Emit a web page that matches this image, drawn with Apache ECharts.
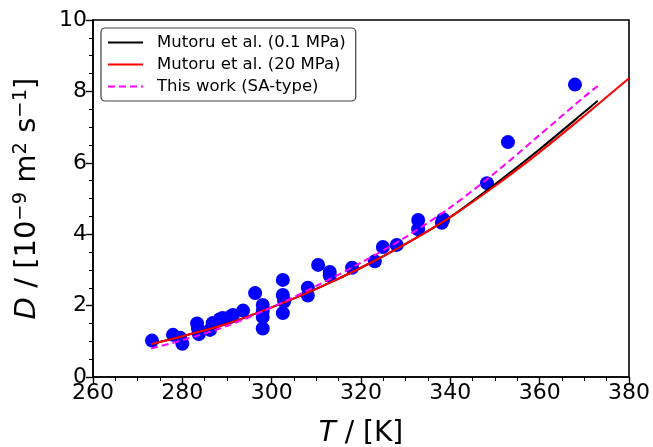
<!DOCTYPE html>
<html>
<head>
<meta charset="utf-8">
<script src="https://cdn.jsdelivr.net/npm/echarts@6/dist/echarts.min.js"></script>
<style>
  html, body { margin: 0; padding: 0; background: #fff; }
  #chart { width: 653px; height: 447px; }
</style>
</head>
<body>
<div id="chart"></div>
<script>
// measured points: temperature [K], D [1e-9 m2/s]
var expT = [273.2, 277.9, 279.5, 280.0, 283.3, 283.5, 283.7, 286.2, 286.8, 288.4, 289.0, 290.7, 291.3,
            293.6, 296.3, 298.0, 298.0, 298.0, 298.0, 302.5, 302.5, 302.8, 302.5, 308.1, 308.1,
            310.4, 313.0, 313.0, 318.0, 323.1, 324.9, 328.0, 332.8, 332.8, 338.1, 338.4,
            348.2, 352.9, 367.9];
var expD = [1.02, 1.18, 1.10, 0.93, 1.50, 1.35, 1.20, 1.32, 1.51, 1.62, 1.65, 1.68, 1.74,
            1.86, 2.35, 2.02, 1.85, 1.68, 1.36, 2.72, 2.30, 2.12, 1.79, 2.50, 2.28,
            3.14, 2.94, 2.84, 3.06, 3.24, 3.64, 3.70, 4.40, 4.14, 4.32, 4.42,
            5.43, 6.58, 8.19];

// Mutoru et al. correlation curves
var mut01T = [273, 280, 290, 300, 310, 320, 330, 340, 350, 360, 370, 373];
var mut01D = [0.92, 1.14, 1.49, 1.95, 2.47, 3.06, 3.73, 4.48, 5.40, 6.38, 7.42, 7.74];
var mut20T = [273, 280, 290, 300, 310, 320, 330, 340, 350, 360, 370, 380];
var mut20D = [0.92, 1.14, 1.49, 1.95, 2.47, 3.06, 3.73, 4.48, 5.35, 6.30, 7.32, 8.37];

// this work (SA-type)
var saT = [273, 280, 290, 300, 310, 320, 330, 340, 350, 360, 370, 373];
var saD = [0.80, 1.03, 1.43, 1.95, 2.55, 3.20, 3.92, 4.75, 5.72, 6.78, 7.85, 8.15];

function pairs(xs, ys) {
    var out = [];
    for (let i = 0; i < xs.length; i++) {
        out.push([xs[i], ys[i]]);
    }
    return out;
}

var font = 'DejaVu Sans';
var supStyle = { fontFamily: font, fontSize: 19.5, padding: [0, 0, 13, 0] };

var option = {
    animation: false,
    backgroundColor: '#fff',
    grid: {
        left: 93, right: 24, top: 20, bottom: 70,
        outerBoundsMode: 'none',
        show: true, borderColor: '#000', borderWidth: 1.6
    },
    legend: {
        orient: 'vertical',
        left: 101, top: 28,
        itemWidth: 35, itemHeight: 12, itemGap: 5,
        padding: [6, 10, 6, 6],
        borderColor: '#444', borderWidth: 1.2, borderRadius: 4,
        backgroundColor: '#fff',
        itemStyle: { opacity: 0 },
        textStyle: { fontFamily: font, fontSize: 16.5, color: '#000', padding: [0, 0, 0, 9] },
        data: ['Mutoru et al. (0.1 MPa)', 'Mutoru et al. (20 MPa)', 'This work (SA-type)']
    },
    xAxis: {
        type: 'value', min: 260, max: 380, interval: 20,
        name: '{i|T} / [K]',
        nameLocation: 'middle', nameGap: 43,
        nameTextStyle: {
            fontFamily: font, fontSize: 28, color: '#000',
            rich: { i: { fontFamily: font, fontStyle: 'italic', fontSize: 28 } }
        },
        axisLine: { lineStyle: { color: '#000', width: 1.6 } },
        axisTick: { inside: false, length: 7, lineStyle: { color: '#000', width: 1.4 } },
        minorTick: { show: true, splitNumber: 4, length: 4, lineStyle: { color: '#000', width: 1 } },
        axisLabel: { fontFamily: font, fontSize: 22, color: '#000', margin: 5 },
        splitLine: { show: false }
    },
    yAxis: {
        type: 'value', min: 0, max: 10, interval: 2,
        name: '{i|D} / [10{s|−9} m{s|2} s{s|−1}]',
        nameLocation: 'middle', nameGap: 49,
        nameTextStyle: {
            fontFamily: font, fontSize: 29, color: '#000',
            rich: {
                i: { fontFamily: font, fontStyle: 'italic', fontSize: 29 },
                s: supStyle
            }
        },
        axisLine: { lineStyle: { color: '#000', width: 1.6 } },
        axisTick: { inside: false, length: 7, lineStyle: { color: '#000', width: 1.4 } },
        minorTick: { show: true, splitNumber: 4, length: 4, lineStyle: { color: '#000', width: 1 } },
        axisLabel: { fontFamily: font, fontSize: 22, color: '#000', margin: 6 },
        splitLine: { show: false }
    },
    series: [
        {
            name: 'Experiment', type: 'scatter', z: 1,
            symbolSize: 14,
            itemStyle: { color: '#0000ff', opacity: 1 },
            data: pairs(expT, expD)
        },
        {
            name: 'Mutoru et al. (0.1 MPa)', type: 'line', z: 3,
            showSymbol: false, symbol: 'none', smooth: 0.3,
            lineStyle: { color: '#000', width: 2 },
            itemStyle: { color: '#000' },
            data: pairs(mut01T, mut01D)
        },
        {
            name: 'Mutoru et al. (20 MPa)', type: 'line', z: 4,
            showSymbol: false, symbol: 'none', smooth: 0.3,
            lineStyle: { color: '#ff0000', width: 2 },
            itemStyle: { color: '#ff0000' },
            data: pairs(mut20T, mut20D)
        },
        {
            name: 'This work (SA-type)', type: 'line', z: 5,
            showSymbol: false, symbol: 'none', smooth: 0.3,
            lineStyle: { color: '#ff00ff', width: 2, type: [7, 4] },
            itemStyle: { color: '#ff00ff' },
            data: pairs(saT, saD)
        }
    ]
};

var myChart = echarts.init(document.getElementById('chart'));
myChart.setOption(option);
</script>
</body>
</html>
